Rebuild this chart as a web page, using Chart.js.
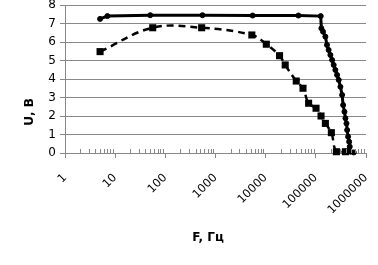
<!DOCTYPE html>
<html lang="ru">
<head>
  <meta charset="UTF-8"/>
  <title>U(F)</title>
  <script src="https://cdn.jsdelivr.net/npm/chart.js"></script>
  <style>
    body { margin: 0; background: #fff; }
    #wrap { width: 378px; height: 265px; }
  </style>
</head>
<body>
  <div id="wrap"><canvas id="chart" width="378" height="265"></canvas></div>

  <script>
    // solid line, round markers
    const freqA = [5, 7, 50, 550, 5500, 45000, 125000, 129000, 139000, 155000, 167000, 180000,
                   195000, 211000, 227000, 245000, 265000, 286000, 309000, 334000, 350000, 372000,
                   389000, 408000, 421000, 440000, 461000, 474000, 490000, 570000];
    const voltA = [7.25, 7.4, 7.45, 7.45, 7.43, 7.43, 7.4, 6.74, 6.56, 6.29, 5.84, 5.57,
                   5.3, 5.03, 4.76, 4.49, 4.22, 3.95, 3.58, 3.14, 2.59, 2.23,
                   1.88, 1.6, 1.24, 0.88, 0.61, 0.34, 0.07, 0.03];

    // dashed line, square markers
    const freqB = [5, 56, 530, 5300, 10300, 18900, 24500, 40700, 55500, 71800, 101000,
                   127000, 155000, 204000, 257000, 389000];
    const voltB = [5.48, 6.77, 6.77, 6.38, 5.88, 5.26, 4.76, 3.89, 3.5, 2.69, 2.42,
                   2.0, 1.6, 1.1, 0.07, 0.07];

    const freqTicks = [1, 10, 100, 1000, 10000, 100000, 1000000];
    const xTitle = 'F, Гц';
    const yTitle = 'U, В';

    const gray = '#888';
    Chart.defaults.font.family = 'DejaVu Sans';
    Chart.defaults.font.size = 11;
    Chart.defaults.color = '#000';

    const toPts = (xs, ys) => xs.map((x, i) => ({x: x, y: ys[i]}));

    // minor ticks pointing into the plot + axis titles
    const extras = {
      id: 'extras',
      afterDraw(chart) {
        const ctx = chart.ctx, xs = chart.scales.x, area = chart.chartArea;
        ctx.save();
        ctx.strokeStyle = gray;
        ctx.lineWidth = 1;
        ctx.beginPath();
        for (let d = 0; d < 6; d++) {
          for (let k = 2; k < 10; k++) {
            const px = Math.round(xs.getPixelForValue(k * Math.pow(10, d))) + 0.5;
            ctx.moveTo(px, area.bottom);
            ctx.lineTo(px, area.bottom - 4);
          }
        }
        ctx.stroke();

        ctx.fillStyle = '#000';
        ctx.font = 'bold 12px "DejaVu Sans"';
        ctx.textAlign = 'center';
        ctx.textBaseline = 'middle';
        ctx.fillText(xTitle, 208, 238);
        ctx.translate(30, 112);
        ctx.rotate(-Math.PI / 2);
        ctx.fillText(yTitle, 0, 0);
        ctx.restore();
      }
    };

    new Chart(document.getElementById('chart').getContext('2d'), {
      type: 'line',
      data: {
        datasets: [
          {
            data: toPts(freqA, voltA),
            borderColor: '#000',
            backgroundColor: '#000',
            borderWidth: 3,
            pointStyle: 'circle',
            pointRadius: 2.5,
            pointBorderWidth: 1,
            tension: 0,
            clip: false
          },
          {
            data: toPts(freqB, voltB),
            borderColor: '#000',
            backgroundColor: '#000',
            borderWidth: 2.5,
            borderDash: [7, 5],
            pointStyle: 'rect',
            pointRadius: 5,
            pointBorderWidth: 0,
            tension: 0.4,
            clip: false
          }
        ]
      },
      options: {
        responsive: false,
        animation: false,
        layout: { padding: { top: 5, right: 12, left: 0, bottom: 0 } },
        plugins: { legend: { display: false }, tooltip: { enabled: false } },
        scales: {
          x: {
            type: 'logarithmic',
            min: 1,
            max: 1000000,
            afterBuildTicks(scale) {
              scale.ticks = freqTicks.map(v => ({value: v, major: true}));
            },
            afterFit(scale) {
              scale.height = 112;
              scale.paddingLeft = 0;
              scale.paddingRight = 0;
            },
            border: { color: gray, width: 1 },
            grid: { drawOnChartArea: false, color: gray, tickLength: 5 },
            ticks: {
              autoSkip: false,
              maxRotation: 45,
              minRotation: 45,
              padding: 13,
              font: { size: 11.5 },
              callback: v => String(v)
            }
          },
          y: {
            min: 0,
            max: 8,
            afterFit(scale) {
              scale.width = 65;
              scale.paddingTop = 0;
              scale.paddingBottom = 0;
            },
            border: { color: gray, width: 1 },
            grid: { color: gray, tickLength: 5 },
            ticks: { stepSize: 1, autoSkip: false, padding: 4, font: { size: 12 } }
          }
        }
      },
      plugins: [extras]
    });
  </script>
</body>
</html>
